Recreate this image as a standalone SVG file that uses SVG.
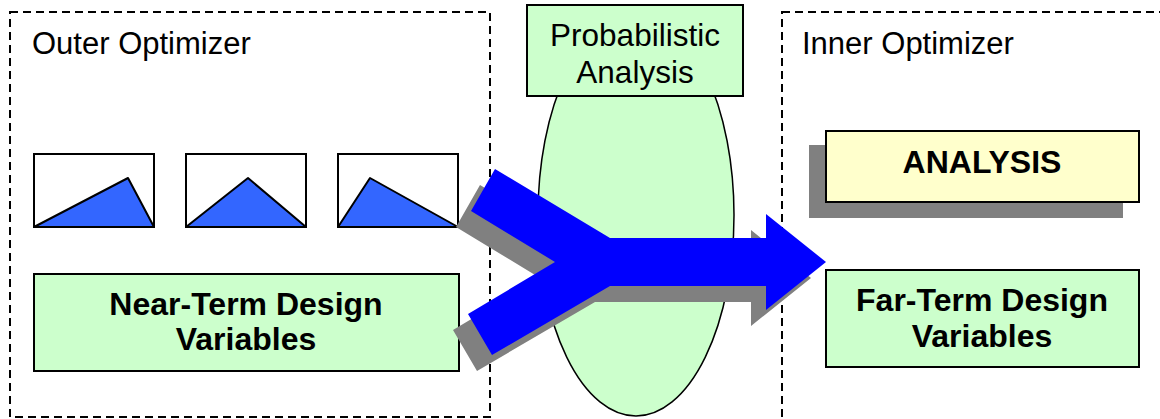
<svg xmlns="http://www.w3.org/2000/svg" width="1160" height="419" viewBox="0 0 1160 419">
  <style>
    .frame { fill: none; stroke: #000; stroke-width: 2; stroke-dasharray: 8 5; }
    .label { font-family: "Liberation Sans", Arial, sans-serif; font-size: 31px; fill: #000; }
    .bold { font-weight: bold; font-size: 32px; }
    .green { fill: #CCFFCC; stroke: #000; stroke-width: 2; }
    .yellow { fill: #FFFFCC; stroke: #000; stroke-width: 2; }
    .plot { fill: #fff; stroke: #000; stroke-width: 2; }
    .tri { fill: #3366FF; stroke: #000; stroke-width: 2; stroke-linejoin: round; }
    .shadow { fill: #808080; }
  </style>
  <defs>
    <path id="merge-arrow" d="M495,169 L610,238 L766,238 L766,214 L826,262 L766,310 L766,286 L610,286 L492,355 L468,314 L555,262 L471,211 Z"/>
  </defs>

  <rect width="1160" height="419" fill="#fff"/>

  <!-- optimizer frames -->
  <g id="outer-optimizer">
    <rect class="frame" x="10" y="12" width="480" height="405"/>
    <text class="label" x="32" y="54">Outer Optimizer</text>
  </g>
  <g id="inner-optimizer">
    <rect class="frame" x="782" y="12" width="400" height="420"/>
    <text class="label" x="802" y="54">Inner Optimizer</text>
  </g>

  <!-- probabilistic analysis -->
  <g id="probabilistic-analysis">
    <ellipse cx="636" cy="215" rx="98" ry="201" fill="#CCFFCC" stroke="#000" stroke-width="1.5"/>
    <rect class="green" x="527" y="5" width="216" height="91"/>
    <text class="label" x="635" y="46" text-anchor="middle" style="font-size:31.5px">Probabilistic</text>
    <text class="label" x="635" y="83" text-anchor="middle" style="font-size:31.5px">Analysis</text>
  </g>

  <!-- distribution plots -->
  <g id="dist-1">
    <rect class="plot" x="34" y="154" width="120" height="73"/>
    <polygon class="tri" points="34,227 128,178 154,227"/>
  </g>
  <g id="dist-2">
    <rect class="plot" x="186" y="154" width="120" height="73"/>
    <polygon class="tri" points="186,227 248,178 306,227"/>
  </g>
  <g id="dist-3">
    <rect class="plot" x="338" y="154" width="120" height="73"/>
    <polygon class="tri" points="338,227 370,178 458,227"/>
  </g>

  <g id="near-term">
    <rect class="green" x="34" y="274" width="425" height="97"/>
    <text class="label bold" x="246" y="315" text-anchor="middle">Near-Term Design</text>
    <text class="label bold" x="246" y="350" text-anchor="middle">Variables</text>
  </g>

  <g id="analysis">
    <rect class="shadow" x="809" y="145" width="314" height="73"/>
    <rect class="yellow" x="826" y="131" width="313" height="71"/>
    <text class="label bold" x="982" y="173" text-anchor="middle">ANALYSIS</text>
  </g>

  <g id="far-term">
    <rect class="green" x="826" y="270" width="313" height="97"/>
    <text class="label bold" x="982" y="311" text-anchor="middle">Far-Term Design</text>
    <text class="label bold" x="982" y="347" text-anchor="middle">Variables</text>
  </g>

  <!-- merging flow arrow -->
  <g id="connectors">
    <use href="#merge-arrow" class="shadow" transform="translate(-15,16)"/>
    <use href="#merge-arrow" fill="#0000FF"/>
  </g>
</svg>
